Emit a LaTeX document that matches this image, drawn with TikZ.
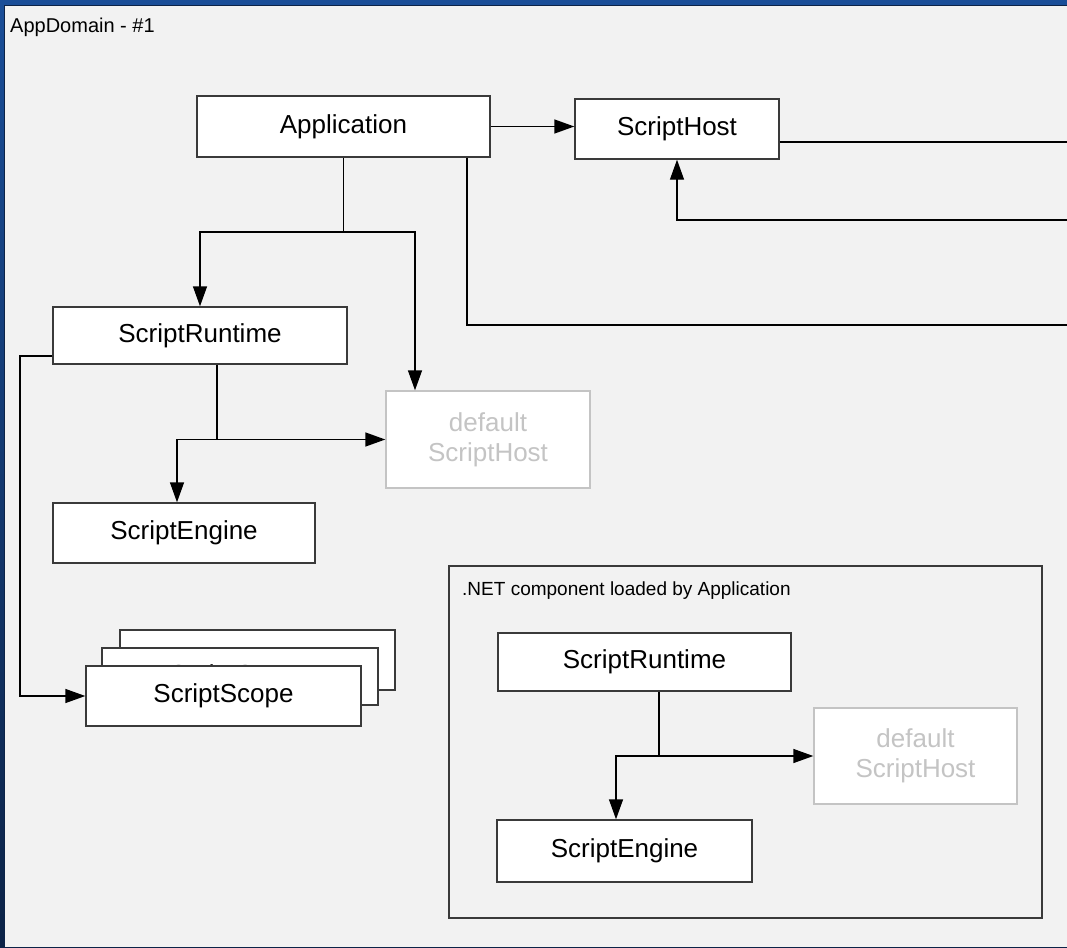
\documentclass[tikz,border=0pt]{standalone}
\usepackage{fontspec}
\setmainfont{Liberation Sans}
\usetikzlibrary{arrows.meta,shadows}

\definecolor{panelgray}{HTML}{F2F2F2}
\definecolor{framedark}{HTML}{0C2347}
\definecolor{frameblue}{HTML}{1A4E98}
\definecolor{boxline}{HTML}{3A3A3A}
\definecolor{ghost}{HTML}{C4C4C4}

\begin{document}
\begin{tikzpicture}[x=1pt, y=-1pt,
    comp/.style={draw=boxline, line width=1.4pt, fill=white, inner sep=0pt,
      font=\fontsize{26}{30}\selectfont,
      drop shadow={shadow xshift=1.2pt, shadow yshift=-1.2pt, fill=gray!60, opacity=1}},
    ghostbox/.style={draw=ghost, line width=1.4pt, fill=white, text=ghost, inner sep=0pt,
      align=center, font=\fontsize{26}{30}\selectfont},
    wire/.style={line width=1.4pt},
    link/.style={line width=1.4pt, -{Triangle[length=20pt, width=14pt]}}]
    \useasboundingbox (0,0) rectangle (1067,947);

    % window frame and the AppDomain panel
    \shade[top color=frameblue, bottom color=framedark] (0,0) rectangle (1067,947);
    \fill[panelgray] (4,6) rectangle (1067,947);
    \draw[framedark, line width=1pt] (4,947) -- (4,6) -- (1067,6);
    \node[anchor=west, inner sep=0pt, font=\fontsize{20}{24}\selectfont] (domlabel) at (10,27) {AppDomain - \#1};

    % the .NET component frame
    \node[draw=boxline, line width=1.2pt, fill=panelgray, minimum width=593pt, minimum height=352pt,
      drop shadow={shadow xshift=1pt, shadow yshift=-1pt, fill=gray!60, opacity=1}] (net) at (745.5,742) {};
    \node[anchor=west, inner sep=0pt, font=\fontsize{19}{23}\selectfont] (netlabel) at (462,591) {.NET component loaded by Application};

    % components of the AppDomain
    \node[comp, minimum width=293pt, minimum height=61pt] (app) at (343.5,126.5) {Application};
    \node[comp, minimum width=204pt, minimum height=60pt] (host) at (677,129) {ScriptHost};
    \node[comp, minimum width=294pt, minimum height=57pt] (rt) at (200,335.5) {ScriptRuntime};
    \node[ghostbox, minimum width=204pt, minimum height=97pt] (defhost) at (488,439.5) {default\\ScriptHost};
    \node[comp, minimum width=262pt, minimum height=60pt] (eng) at (184,533) {ScriptEngine};
    \node[comp, minimum width=275pt, minimum height=60pt] (scope3) at (257.5,660) {ScriptScope};
    \node[comp, minimum width=276pt, minimum height=57pt] (scope2) at (240,676.5) {ScriptScope};
    \node[comp, minimum width=275pt, minimum height=60pt] (scope1) at (223.5,696) {ScriptScope};

    % components inside the .NET component
    \node[comp, minimum width=293pt, minimum height=58pt] (nrt) at (644.5,662) {ScriptRuntime};
    \node[ghostbox, minimum width=203pt, minimum height=96pt] (ndef) at (915.5,756) {default\\ScriptHost};
    \node[comp, minimum width=255pt, minimum height=62pt] (neng) at (624.5,851) {ScriptEngine};

    % connectors of the AppDomain
    \draw[link] (app.east) -- (app.east -| host.west);
    \coordinate (r1) at (1067,142);
    \coordinate (r2) at (1067,220);
    \coordinate (r3) at (1067,325);
    \draw[wire] (host.east |- r1) -- (r1);
    \draw[link] (r2) -| (host.south);
    \draw[wire] ([xshift=123.5pt]app.south) |- (r3);

    \coordinate (j1) at (343.5,232);
    \draw[wire] (app.south) -- (j1);
    \draw[link] (j1) -| (rt.north);
    \draw[link] (j1) -| ([xshift=-73pt]defhost.north);

    \coordinate (j2) at (217,439.5);
    \draw[wire] ([xshift=17pt]rt.south) -- (j2);
    \draw[link] (j2) -- (j2 -| defhost.west);
    \draw[link] (j2) -| ([xshift=-7pt]eng.north);

    \coordinate (j3) at (20,696);
    \draw[link] ([yshift=-20.5pt]rt.west) -| (j3) -- (scope1.west);

    % connectors inside the .NET component
    \coordinate (j4) at (659,756);
    \draw[wire] ([xshift=14.5pt]nrt.south) -- (j4);
    \draw[link] (j4) -- (j4 -| ndef.west);
    \draw[link] (j4) -| ([xshift=-8.5pt]neng.north);
\end{tikzpicture}
\end{document}
